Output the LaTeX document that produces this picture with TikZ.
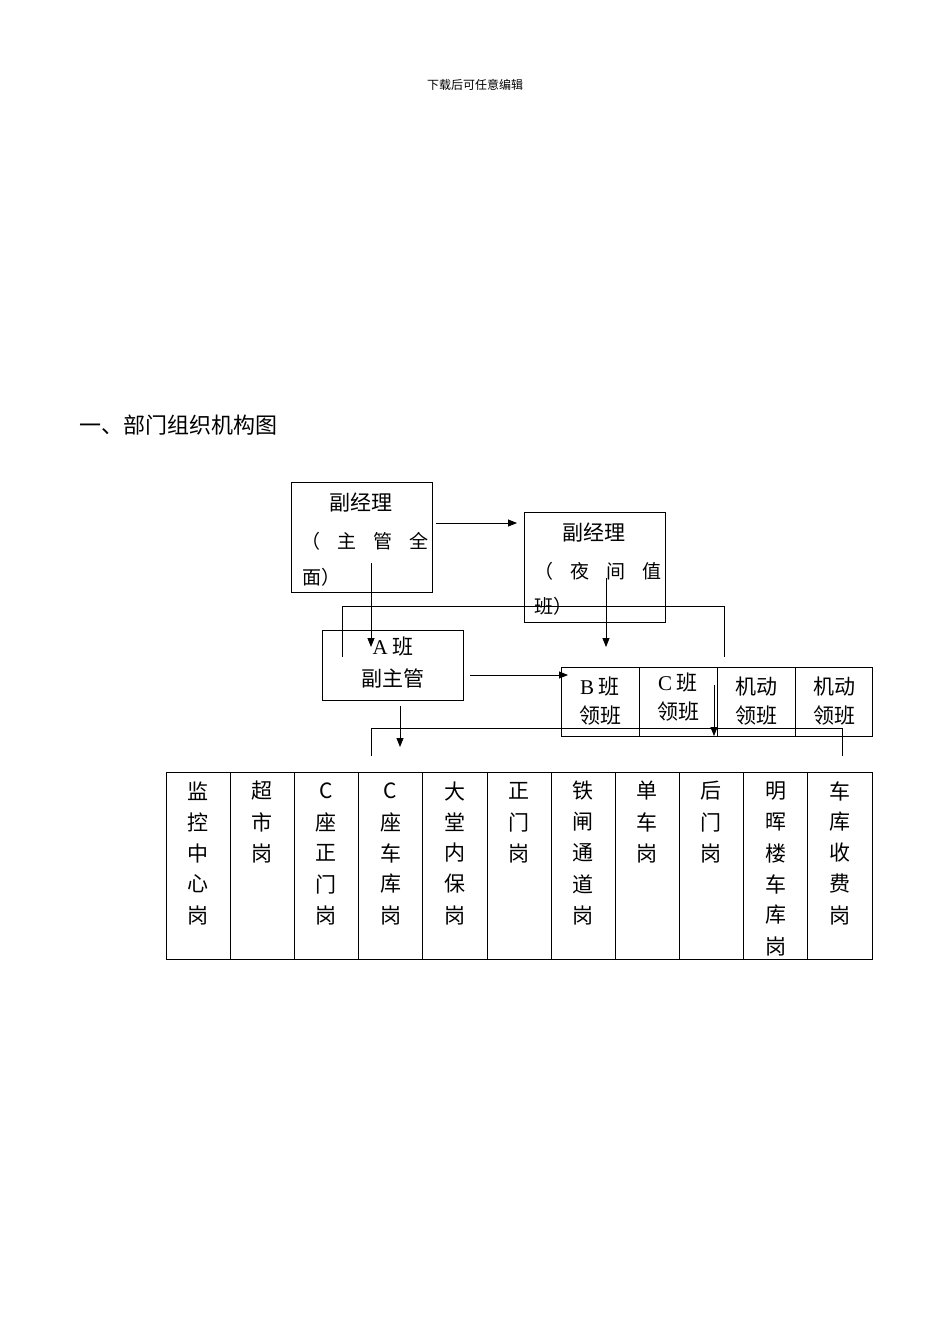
\documentclass[tikz,border=0pt]{standalone}
\usepackage{fontspec}
\setmainfont{Liberation Serif}
\newfontfamily\cjk{Noto Sans CJK SC}
\usetikzlibrary{arrows.meta}
\begin{document}
\begin{tikzpicture}[x=1pt,y=-1pt,
  bx/.style={draw,thick,inner sep=0},
  t/.style={font=\cjk\fontsize{21}{21}\selectfont,inner sep=0},
  ts/.style={font=\cjk\fontsize{19}{19}\selectfont,inner sep=0},
  arr/.style={thick,-{Triangle[length=9pt,width=7pt]}},
  ln/.style={thick}]
\useasboundingbox[fill=white] (0,0) rectangle (950,1342);
\node[font=\cjk\fontsize{12}{12}\selectfont] (hd) at (475,85) {下载后可任意编辑};
\node[anchor=west,font=\cjk\fontsize{22}{22}\selectfont] (ti) at (76,425) {一、部门组织机构图};
% box 1
\draw[bx] (291,482) rectangle (432,592); \coordinate (b1) at (361,537);
\node[t] (b1a) at (361,503) {副经理};
\node[ts] (b1b) at (365,541) {（\hspace{0.9em}主\hspace{0.9em}管\hspace{0.9em}全};
\node[ts,anchor=west] (b1c) at (302,577) {面）};
% box 2
\draw[bx] (524,512) rectangle (665,622);
\node[t] (b2a) at (594,533) {副经理};
\node[ts] (b2b) at (598,571) {（\hspace{0.9em}夜\hspace{0.9em}间\hspace{0.9em}值};
\node[ts,anchor=west] (b2c) at (534,606) {班）};
% box A
\draw[bx] (322,630) rectangle (463,700);
\node[t] (aa) at (393,647) {{\rmfamily A} 班};
\node[t] (ab) at (393,678) {副主管};
% B row
\draw[bx] (561,667) rectangle (872,736);
\foreach \x in {639,717,795} \draw[thick] (\x,667) -- (\x,736);
\node[t] (r1a) at (600,687) {{\rmfamily B} 班}; \node[t] (r1b) at (600,716) {领班};
\node[t] (r2a) at (678,683) {{\rmfamily C} 班}; \node[t] (r2b) at (678,712) {领班};
\node[t] (r3a) at (756,687) {机动}; \node[t] (r3b) at (756,716) {领班};
\node[t] (r4a) at (834,687) {机动}; \node[t] (r4b) at (834,716) {领班};
% connectors
\coordinate (p1) at (436,523); \coordinate (p2) at (517,523);
\draw[arr] (p1) -- (p2);
\coordinate (p3) at (371,563); \coordinate (p4) at (371,647);
\draw[arr] (p3) -- (p4);
\coordinate (p5) at (606,578); \coordinate (p6) at (606,647);
\draw[arr] (p5) -- (p6);
\coordinate (q1) at (342,657); \coordinate (q2) at (724,657);
\draw[ln] (q1) |- (533,606) -| (q2);
\coordinate (p7) at (470,675); \coordinate (p8) at (568,675);
\draw[arr] (p7) -- (p8);
\coordinate (p9) at (400,706); \coordinate (p10) at (400,747);
\draw[arr] (p9) -- (p10);
\coordinate (p11) at (714,685); \coordinate (p12) at (714,736);
\draw[arr] (p11) -- (p12);
\coordinate (q3) at (371,756); \coordinate (q4) at (842,756);
\draw[ln] (q3) |- (600,728) -| (q4);
% bottom table
\draw[bx] (166,772) rectangle (872,959);
\foreach \i in {1,...,10} \draw[thick] ({166+\i*64.18},772) -- ({166+\i*64.18},959);
\foreach \s [count=\i from 0] in {{监,控,中,心,岗},{超,市,岗},{C,座,正,门,岗},{C,座,车,库,岗},{大,堂,内,保,岗},{正,门,岗},{铁,闸,通,道,岗},{单,车,岗},{后,门,岗},{明,晖,楼,车,库,岗},{车,库,收,费,岗}}{
  \foreach \c [count=\j from 0] in \s {
    \node[t] (c\i-\j) at ({198+\i*64.18},{791+\j*31}) {\c};
  }
}
\end{tikzpicture}
\end{document}
